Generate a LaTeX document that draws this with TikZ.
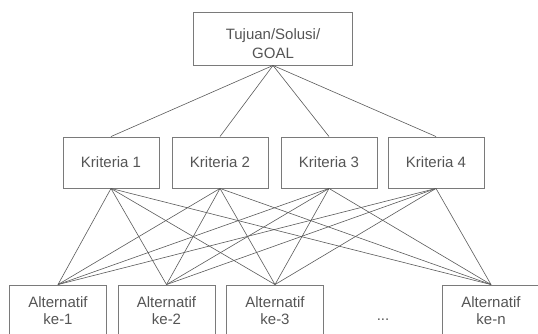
\documentclass[tikz,border=0pt]{standalone}
\usepackage{fontspec}
\setmainfont{Liberation Sans}
\definecolor{linec}{HTML}{5A5A5A}
\definecolor{boxc}{HTML}{7A7A7A}
\definecolor{txtc}{HTML}{555555}
\begin{document}
\begin{tikzpicture}[x=1pt,y=-1pt,
  box/.style={draw=boxc, line width=0.9pt, rectangle, inner sep=0pt, fill=white},
  txt/.style={text=txtc, font=\fontsize{15}{19}\selectfont, align=center, inner sep=0pt},
  krit/.style={box, txt, minimum width=96pt, minimum height=51pt},
  alt/.style={box, txt, font=\fontsize{15}{17}\selectfont, minimum width=97pt, minimum height=52pt},
  conn/.style={draw=linec, line width=0.6pt}]
\useasboundingbox (0,0) rectangle (538,333);
% connectors first
\coordinate (dummy) at (0,0);
\node[box, minimum width=159pt, minimum height=53pt] (goal) at (273,38.5) {};
\node[txt] (goaltxt) at (273,44) {Tujuan/Solusi/\\GOAL};
\node[krit] (k1) at (111,162.5) {Kriteria 1};
\node[krit] (k2) at (220,162.5) {Kriteria 2};
\node[krit] (k3) at (329,162.5) {Kriteria 3};
\node[krit] (k4) at (436,162.5) {Kriteria 4};
\node[alt] (a1) at (58,311) {Alternatif\\ke-1};
\node[alt] (a2) at (166.5,311) {Alternatif\\ke-2};
\node[alt] (a3) at (275,311) {Alternatif\\ke-3};
\node[alt] (an) at (491,311) {Alternatif\\ke-n};
\node[txt] (dots) at (383,320) {...};
\foreach \k in {k1,k2,k3,k4}{
  \draw[conn] (goal.south) -- (\k.north);
  \foreach \a in {a1,a2,a3,an}{
    \draw[conn] (\k.south) -- (\a.north);
  }
}
\end{tikzpicture}
\end{document}
